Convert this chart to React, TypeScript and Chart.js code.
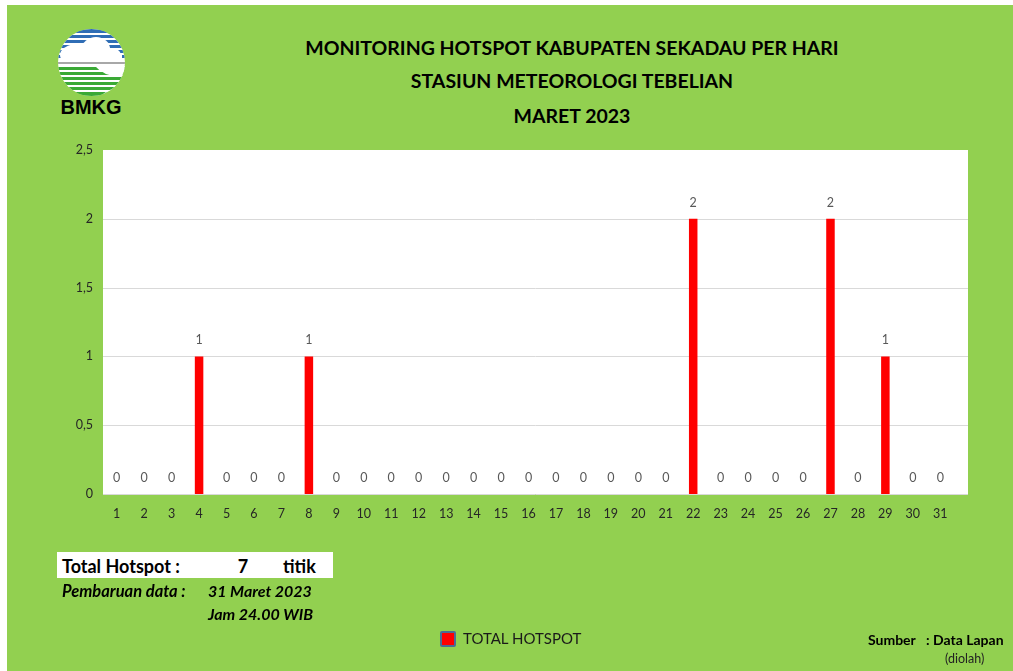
import React, { useEffect, useRef } from "react";
import { Chart, registerables } from "chart.js";

Chart.register(...registerables);

const days = Array.from({ length: 31 }, (_, i) => String(i + 1));
const hotspots = [0, 0, 0, 1, 0, 0, 0, 1, 0, 0, 0, 0, 0, 0, 0, 0, 0, 0, 0, 0, 0, 2, 0, 0, 0, 0, 2, 0, 1, 0, 0];
const yTicks = [0, 0.5, 1, 1.5, 2, 2.5];
const titleLines = ["MONITORING HOTSPOT KABUPATEN SEKADAU PER HARI", "STASIUN METEOROLOGI TEBELIAN", "MARET 2023"];
const seriesName = "TOTAL HOTSPOT";

const FONT = "Lato, 'Open Sans', sans-serif";
const PLOT_RIGHT_BG = 968;

const plotBg = {
  id: "plotBg",
  beforeDatasetsDraw(chart: any) {
    const { ctx, chartArea } = chart;
    const yScale = chart.scales.y;
    ctx.save();
    ctx.fillStyle = "#ffffff";
    ctx.fillRect(chartArea.left, chartArea.top, PLOT_RIGHT_BG - chartArea.left, chartArea.bottom - chartArea.top);
    ctx.strokeStyle = "#d9d9d9";
    ctx.lineWidth = 1;
    yTicks.forEach((v) => {
      if (v === 2.5) return;
      const y = Math.round(yScale.getPixelForValue(v)) + 0.5;
      ctx.beginPath();
      ctx.moveTo(chartArea.left, y);
      ctx.lineTo(PLOT_RIGHT_BG, y);
      ctx.stroke();
    });
    ctx.restore();
  },
};

const dataLabels = {
  id: "dataLabels",
  afterDatasetsDraw(chart: any) {
    const { ctx } = chart;
    const meta = chart.getDatasetMeta(0);
    const data = chart.data.datasets[0].data;
    ctx.save();
    ctx.font = `12.5px ${FONT}`;
    ctx.fillStyle = "#595959";
    ctx.textAlign = "center";
    ctx.textBaseline = "middle";
    meta.data.forEach((bar: any, i: number) => {
      ctx.fillText(String(data[i]).replace(".", ","), bar.x, bar.y - 16);
    });
    ctx.restore();
  },
};

function Txt(props: { x: number; y: number; size: number; bold?: boolean; italic?: boolean; color?: string; center?: boolean; children: any }) {
  const { x, y, size, bold, italic, color, center, children } = props;
  return (
    <div
      style={{
        position: "absolute",
        left: x,
        top: y,
        transform: center ? "translate(-50%, -50%)" : "translateY(-50%)",
        fontFamily: FONT,
        fontSize: size,
        fontWeight: bold ? 700 : 400,
        fontStyle: italic ? "italic" : "normal",
        color: color || "#000",
        whiteSpace: "nowrap",
        lineHeight: 1,
      }}
    >
      {children}
    </div>
  );
}

function Logo() {
  const cx = 91.5;
  const cy = 62.5;
  const r = 33.5;
  const blue = [30, 35, 40, 45, 50, 55];
  const green = [67, 72, 77, 82, 87, 92];
  return (
    <svg width={140} height={130} style={{ position: "absolute", left: 0, top: 0 }}>
      <defs>
        <clipPath id="logoClip">
          <circle cx={cx} cy={cy} r={r} />
        </clipPath>
      </defs>
      <g clipPath="url(#logoClip)">
        <rect x={cx - r} y={cy - r} width={2 * r} height={2 * r} fill="#ffffff" />
        {blue.map((y) => (
          <rect key={"b" + y} x={cx - r} y={y} width={2 * r} height={3} fill="#2f6db5" />
        ))}
        <rect x={cx - r} y={cy - r} width={2 * r} height={4} fill="#2f6db5" />
        <ellipse cx={78} cy={55} rx={18} ry={11} fill="#ffffff" />
        <ellipse cx={96} cy={49} rx={14} ry={12} fill="#ffffff" />
        <ellipse cx={111} cy={55} rx={10} ry={7} fill="#ffffff" />
        <rect x={62} y={55} width={60} height={6} fill="#ffffff" />
        <rect x={cx - r} y={62} width={2 * r} height={2} fill="#a8a8a8" />
        {green.map((y) => (
          <rect key={"g" + y} x={cx - r} y={y} width={2 * r} height={3} fill="#3aa935" />
        ))}
        <rect x={cx - r} y={92} width={2 * r} height={6} fill="#3aa935" />
        <path d="M 95 66 Q 105 78 125 76 L 125 66 Z" fill="#ffffff" />
        <path d="M 100 96 Q 112 86 126 88 L 126 98 Z" fill="#ffffff" />
      </g>
    </svg>
  );
}

export default function App() {
  const canvasRef = useRef<HTMLCanvasElement | null>(null);

  useEffect(() => {
    if (!canvasRef.current) return;
    const chart = new Chart(canvasRef.current, {
      type: "bar",
      data: {
        labels: days,
        datasets: [
          {
            label: seriesName,
            data: hotspots,
            backgroundColor: "#ff0000",
            borderWidth: 0,
            barPercentage: 0.31,
            categoryPercentage: 1,
          },
        ],
      },
      options: {
        responsive: false,
        animation: false,
        devicePixelRatio: 1,
        layout: { padding: { top: 150, right: 59, left: 0, bottom: 0 } },
        plugins: {
          legend: { display: false },
          title: { display: false },
          tooltip: { enabled: false },
        },
        scales: {
          x: {
            grid: { display: false, drawTicks: false },
            border: { display: false },
            ticks: { color: "#262626", font: { family: FONT, size: 12.5 }, padding: 12, maxRotation: 0, autoSkip: false },
            afterFit(scale: any) {
              scale.height = 177;
            },
          },
          y: {
            min: 0,
            max: 2.5,
            afterBuildTicks(scale: any) {
              scale.ticks = yTicks.map((v) => ({ value: v }));
            },
            grid: { display: false, drawTicks: false },
            border: { display: false },
            ticks: {
              color: "#262626",
              font: { family: FONT, size: 12.5 },
              padding: 10,
              callback: (v: any) => String(v).replace(".", ","),
            },
            afterFit(scale: any) {
              scale.width = 103;
            },
          },
        },
      },
      plugins: [plotBg, dataLabels],
    });
    return () => chart.destroy();
  }, []);

  return (
    <div style={{ position: "absolute", left: 0, top: 0, width: 1013, height: 671, background: "#ffffff", overflow: "hidden" }}>
      <div style={{ position: "absolute", left: 7, top: 5, width: 1006, height: 666, background: "#92d050" }} />
      <Logo />
      <Txt x={91} y={106} size={20} bold center>
        <span style={{ fontFamily: "'Liberation Sans', Arial, sans-serif" }}>BMKG</span>
      </Txt>
      <Txt x={572} y={48} size={19.5} bold center>{titleLines[0]}</Txt>
      <Txt x={572} y={81} size={19.5} bold center>{titleLines[1]}</Txt>
      <Txt x={572} y={116} size={19.5} bold center>{titleLines[2]}</Txt>
      <canvas ref={canvasRef} width={1013} height={671} style={{ position: "absolute", left: 0, top: 0, width: 1013, height: 671 }} />
      <div style={{ position: "absolute", left: 57, top: 552, width: 276, height: 26, background: "#ffffff" }} />
      <Txt x={62} y={566} size={18} bold>Total Hotspot :</Txt>
      <Txt x={243} y={566} size={18} bold center>7</Txt>
      <Txt x={283} y={566} size={18} bold>titik</Txt>
      <Txt x={62} y={591} size={16.5} bold italic>Pembaruan data :</Txt>
      <Txt x={208} y={591} size={16} bold italic>31 Maret 2023</Txt>
      <Txt x={208} y={614} size={16} bold italic>Jam 24.00 WIB</Txt>
      <div style={{ position: "absolute", left: 440, top: 631, width: 12, height: 12, background: "#ff0000", border: "2px solid #4a6c94", borderRadius: 2 }} />
      <Txt x={463} y={638} size={15} color="#1a1a1a">{seriesName}</Txt>
      <Txt x={868} y={640} size={14} bold>Sumber</Txt>
      <Txt x={926} y={640} size={14} bold>: Data Lapan</Txt>
      <Txt x={945} y={659} size={12.5} color="#222">(diolah)</Txt>
    </div>
  );
}
